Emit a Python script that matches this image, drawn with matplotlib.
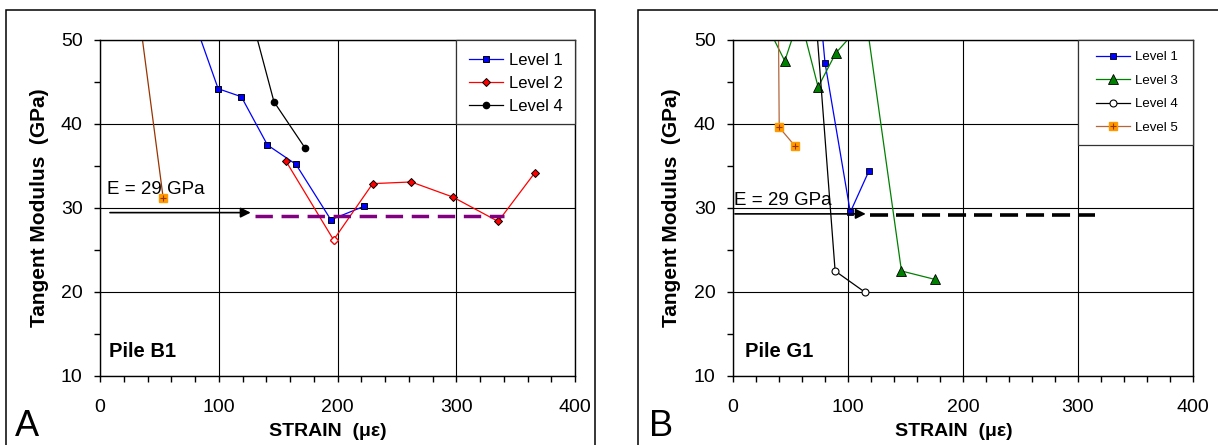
import matplotlib
matplotlib.use('Agg')
import matplotlib.pyplot as plt
from matplotlib.patches import Rectangle
from matplotlib.ticker import MultipleLocator

plt.rcParams['font.family'] = ['Liberation Sans', 'DejaVu Sans']

# ---- Pile B1 (panel A) ----
b1_l1_x = [78, 99.5, 119, 141, 165, 194.4, 222.3]
b1_l1_y = [52.8, 44.2, 43.25, 37.5, 35.2, 28.6, 30.2]
b1_l2_x = [156.5, 196.7, 229.6, 262.1, 297.2, 335.3, 366.2]
b1_l2_y = [35.6, 26.2, 32.9, 33.1, 31.3, 28.4, 34.2]
b1_l2_open = 1          # index of the hollow marker
b1_l4_x = [127, 146.5, 172.4]
b1_l4_y = [53.0, 42.65, 37.2]
b1_l5_x = [33, 53.2]
b1_l5_y = [53.0, 31.2]
b1_dash_x = [130.5, 340]
b1_dash_y = 29.1
b1_arrow_x = [8.4, 126.9]
b1_arrow_y = 29.45

# ---- Pile G1 (panel B) ----
g1_l1_x = [76, 80, 102, 118]
g1_l1_y = [53.2, 47.3, 29.5, 34.35]
g1_l3_x = [25, 45, 58.1, 74, 89.4, 115.8, 146.5, 175.6]
g1_l3_y = [53.0, 47.5, 52.9, 44.4, 48.45, 52.5, 22.5, 21.5]
g1_l4_x = [72, 88.8, 114.5]
g1_l4_y = [52.8, 22.5, 20.0]
g1_l5_x = [39.3, 40.2, 53.8]
g1_l5_y = [55, 39.6, 37.4]
g1_dash_x = [119, 315]
g1_dash_y = 29.2
g1_arrow_x = [1.7, 115.4]
g1_arrow_y = 29.3

W, H = 1218, 445
fig = plt.figure(figsize=(W / 100, H / 100), dpi=100)

# panel frames
fig.patches.append(Rectangle((6 / W, -0.1), (595 - 6) / W, 0.1 + (H - 10) / H,
                             transform=fig.transFigure, fill=False,
                             edgecolor='black', lw=1.1))
fig.patches.append(Rectangle((638 / W, -0.1), 0.6, 0.1 + (H - 10) / H,
                             transform=fig.transFigure, fill=False,
                             edgecolor='black', lw=1.1))

axA = fig.add_axes([100 / W, (H - 376) / H, 475 / W, 336 / H])
axB = fig.add_axes([733 / W, (H - 376) / H, 460 / W, 336 / H])


def style(ax):
    ax.set_xlim(0, 400)
    ax.set_ylim(10, 50)
    ax.xaxis.set_major_locator(MultipleLocator(100))
    ax.xaxis.set_minor_locator(MultipleLocator(20))
    ax.yaxis.set_major_locator(MultipleLocator(10))
    ax.yaxis.set_minor_locator(MultipleLocator(5))
    ax.tick_params(which='both', direction='out', length=4.5, width=1,
                   labelsize=14)
    ax.tick_params(axis='x', which='both', pad=12)
    ax.tick_params(axis='y', which='both', pad=8)
    ax.grid(True, which='major', color='black', lw=0.8)
    ax.set_axisbelow(True)
    for s in ax.spines.values():
        s.set_linewidth(1)
        s.set_color('black')
    ax.set_xlabel('STRAIN  (\u03bc\u03b5)', fontsize=14, fontweight='bold')
    ax.set_ylabel('Tangent Modulus  (GPa)', fontsize=15, fontweight='bold')
    ax.xaxis.set_label_coords(0.48, -0.14)


style(axA)
style(axB)
axA.yaxis.set_label_coords(-0.107, 0.5)
axB.yaxis.set_label_coords(-0.113, 0.5)

# ---- panel A ----
ax = axA
l1, = ax.plot(b1_l1_x, b1_l1_y, '-s', color='#0000ff', lw=0.9, ms=4.5,
              mfc='#0000ff', mec='black', mew=0.7, label='Level 1')
l2, = ax.plot(b1_l2_x, b1_l2_y, '-D', color='#ff0000', lw=0.9, ms=3.8,
              mfc='#ff0000', mec='black', mew=0.7, label='Level 2')
ax.plot(b1_l2_x[b1_l2_open], b1_l2_y[b1_l2_open], 'D', ms=3.8, mfc='white',
        mec='#ff0000', mew=0.9)
l4, = ax.plot(b1_l4_x, b1_l4_y, '-o', color='black', lw=0.9, ms=4.5,
              label='Level 4')
ax.plot(b1_l5_x, b1_l5_y, '-s', color='#993300', lw=0.9, ms=6,
        mfc='#ff9900', mec='#ff9900')
ax.plot(b1_l5_x, b1_l5_y, '+', color='#993300', ms=4.5, mew=0.8, ls='none')
ax.plot(b1_dash_x, [b1_dash_y] * 2, color='#800080', lw=2.5,
        dashes=(5, 2.5))
ax.annotate('', xy=(b1_arrow_x[1], b1_arrow_y), xytext=(b1_arrow_x[0], b1_arrow_y),
            arrowprops=dict(arrowstyle='-|>', color='black', lw=1.2,
                            mutation_scale=15, shrinkA=0, shrinkB=0))
ax.text(5.6, 31.67, 'E = 29 GPa', fontsize=13.5, va='baseline')
ax.text(7.6, 12.86, 'Pile B1', fontsize=14.5, fontweight='bold', va='center')
ax.add_patch(Rectangle((300, 40), 100, 10, facecolor='white',
                       edgecolor='#333333', lw=0.9, zorder=4, clip_on=False))
ax.legend(handles=[l1, l2, l4], loc='center', bbox_to_anchor=(0.876, 0.871),
          frameon=False, fontsize=12, borderpad=0, handlelength=2.0,
          handletextpad=0.36, labelspacing=0.48).set_zorder(5)

# ---- panel B ----
ax = axB
m1, = ax.plot(g1_l1_x, g1_l1_y, '-s', color='#0000ff', lw=0.9, ms=3.8,
              mfc='#0000ff', mec='black', mew=0.6, label='Level 1')
m3, = ax.plot(g1_l3_x, g1_l3_y, '-^', color='#008000', lw=0.9, ms=6.5,
              mfc='#008000', mec='black', mew=0.6, label='Level 3')
m4, = ax.plot(g1_l4_x, g1_l4_y, '-o', color='black', lw=0.9, ms=5,
              mfc='white', mec='black', mew=0.8, label='Level 4')
m5, = ax.plot(g1_l5_x, g1_l5_y, '-s', color='#b5653a', lw=0.9, ms=5.5,
              mfc='#ff9900', mec='#ff9900', label='Level 5')
m5p, = ax.plot(g1_l5_x, g1_l5_y, '+', color='#993300', ms=4, mew=0.8,
               ls='none')
ax.plot(g1_dash_x, [g1_dash_y] * 2, color='black', lw=2.6, dashes=(5, 2.2))
ax.annotate('', xy=(g1_arrow_x[1], g1_arrow_y), xytext=(g1_arrow_x[0], g1_arrow_y),
            arrowprops=dict(arrowstyle='-|>', color='black', lw=1.2,
                            mutation_scale=15, shrinkA=0, shrinkB=0))
ax.text(1, 30.36, 'E = 29 GPa', fontsize=13.5, va='baseline')
ax.text(10.4, 12.9, 'Pile G1', fontsize=14.5, fontweight='bold', va='center')
ax.add_patch(Rectangle((300, 37.5), 100, 12.5, facecolor='white',
                       edgecolor='#333333', lw=0.9, zorder=4, clip_on=False))
ax.legend(handles=[m1, m3, m4, (m5, m5p)], labels=['Level 1', 'Level 3', 'Level 4', 'Level 5'],
          loc='center', bbox_to_anchor=(0.878, 0.844), frameon=False,
          fontsize=9.5, borderpad=0, handlelength=2.6, handletextpad=0.33,
          labelspacing=0.86).set_zorder(5)

# panel letters
fig.text(15 / W, 0.5 / H, 'A', fontsize=26, va='bottom', ha='left')
fig.text(649 / W, 0.5 / H, 'B', fontsize=26, va='bottom', ha='left')

fig.savefig('out.png', dpi=100)
